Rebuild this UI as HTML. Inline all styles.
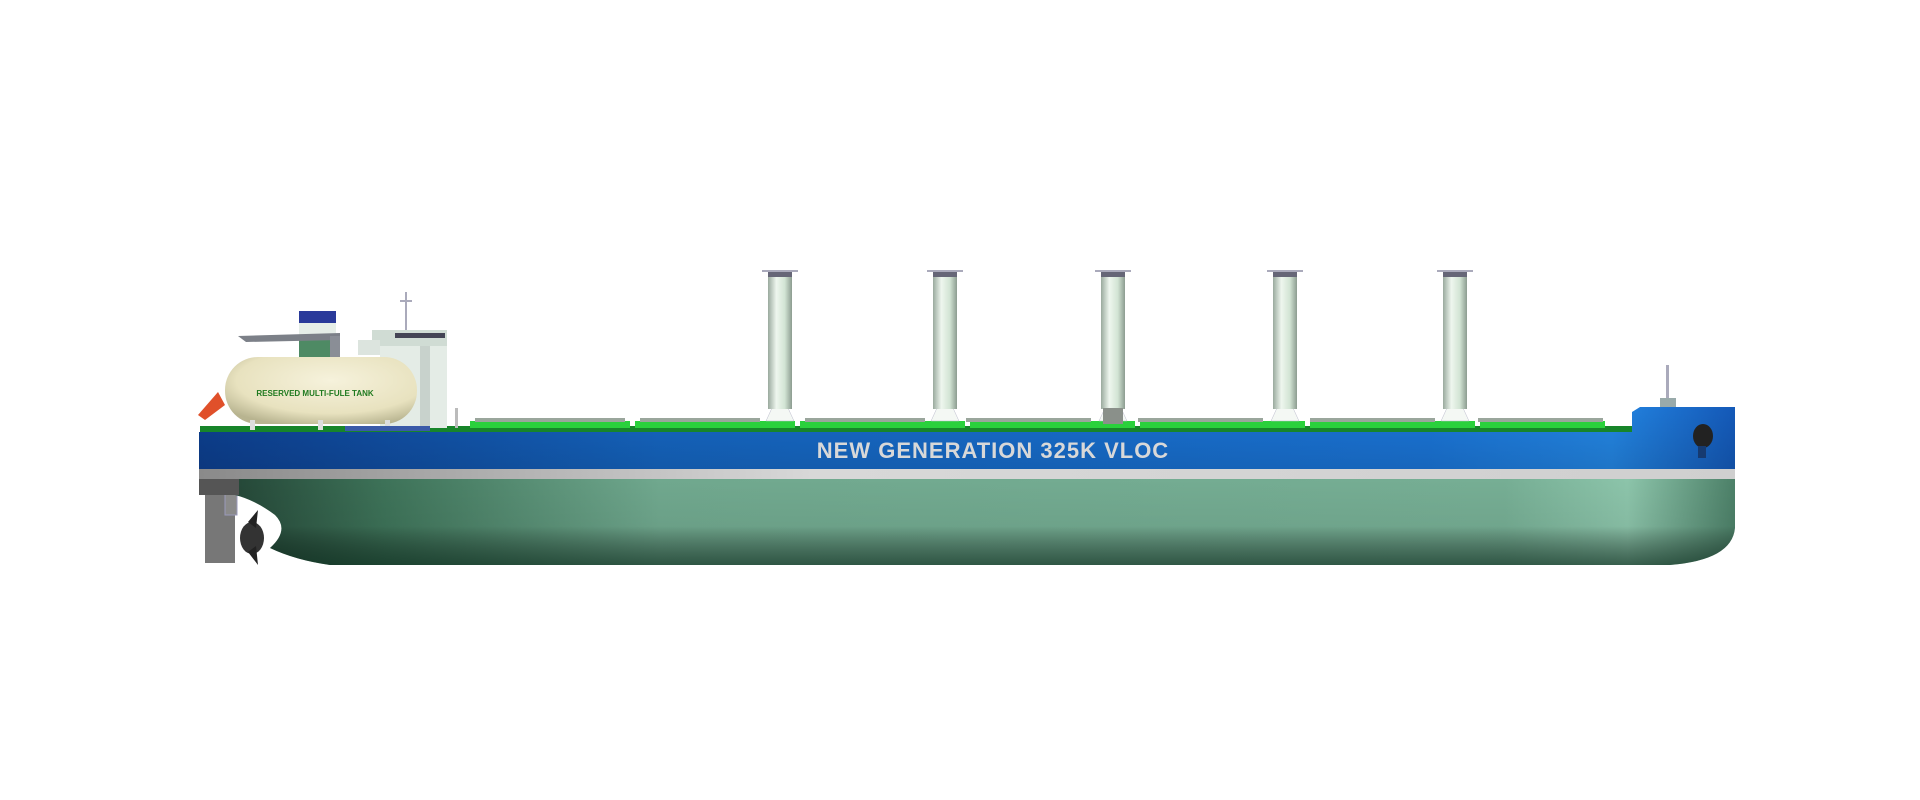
<!DOCTYPE html>
<html><head><style>
html,body{margin:0;padding:0;background:#fff;width:1920px;height:800px;overflow:hidden}
svg{display:block}
.t{font-family:"Liberation Sans",Arial,sans-serif;font-weight:700}
</style></head><body>
<svg width="1920" height="800" viewBox="0 0 1920 800" xmlns="http://www.w3.org/2000/svg">
<defs>
<linearGradient id="blue" x1="0" x2="1" y1="0" y2="0">
<stop offset="0" stop-color="#0d3f8f"/><stop offset="0.3" stop-color="#1565c0"/><stop offset="0.8" stop-color="#1a74d6"/><stop offset="0.92" stop-color="#2385e2"/><stop offset="1" stop-color="#1459b8"/>
</linearGradient>
<linearGradient id="bluev" x1="0" x2="0" y1="0" y2="1">
<stop offset="0" stop-color="#000" stop-opacity="0"/><stop offset="1" stop-color="#000" stop-opacity="0.12"/>
</linearGradient>
<linearGradient id="green" x1="0" x2="1" y1="0" y2="0">
<stop offset="0" stop-color="#1f3d30"/><stop offset="0.12" stop-color="#3d7258"/><stop offset="0.3" stop-color="#70a88e"/><stop offset="0.85" stop-color="#76ae94"/><stop offset="0.93" stop-color="#8cc4aa"/><stop offset="1" stop-color="#4c8068"/>
</linearGradient>
<linearGradient id="greenv" x1="0" x2="0" y1="0" y2="1">
<stop offset="0" stop-color="#000" stop-opacity="0"/><stop offset="0.55" stop-color="#000" stop-opacity="0.05"/><stop offset="1" stop-color="#0b2a1c" stop-opacity="0.65"/>
</linearGradient>
<linearGradient id="rotor" x1="0" x2="1">
<stop offset="0" stop-color="#9aaa9e"/><stop offset="0.35" stop-color="#eef6ee"/><stop offset="0.7" stop-color="#d2e4d4"/><stop offset="1" stop-color="#8c9c90"/>
</linearGradient>
<radialGradient id="tank" cx="0.55" cy="0.35" r="0.7">
<stop offset="0" stop-color="#f6f2dc"/><stop offset="0.7" stop-color="#e8e2bf"/><stop offset="1" stop-color="#b8b490"/>
</radialGradient>
<linearGradient id="stripe" x1="0" x2="1"><stop offset="0" stop-color="#8a8a8a"/><stop offset="0.4" stop-color="#d8d8d8"/><stop offset="1" stop-color="#cfcfcf"/></linearGradient>
</defs>

<!-- rudder -->
<rect x="205" y="478" width="30" height="85" fill="#777"/>
<rect x="225" y="490" width="12" height="25" fill="#8a8a8a" stroke="#99b" stroke-width="1"/>

<!-- hull lower green -->
<path d="M199 479 L1735 479 L1735 528 Q1732 560 1670 565 L330 565 Q295 560 270 548 Q290 530 275 515 Q255 500 235 495 L235 479 Z" fill="url(#green)"/>
<path d="M199 479 L1735 479 L1735 528 Q1732 560 1670 565 L330 565 Q295 560 270 548 Q290 530 275 515 Q255 500 235 495 L235 479 Z" fill="url(#greenv)"/>
<rect x="199" y="479" width="40" height="16" fill="#555"/>
<!-- propeller -->
<ellipse cx="252" cy="538" rx="12" ry="16" fill="#333"/>
<path d="M248 522 L258 510 L256 528 Z M248 552 L258 565 L256 546 Z" fill="#222"/>

<!-- white/grey stripe -->
<rect x="199" y="469" width="1536" height="10" fill="url(#stripe)"/>

<!-- blue hull band -->
<path d="M199 432 L1632 432 L1632 412 L1640 407 L1735 407 L1735 469 L199 469 Z" fill="url(#blue)"/>
<path d="M199 432 L1632 432 L1632 412 L1640 407 L1735 407 L1735 469 L199 469 Z" fill="url(#bluev)"/>
<!-- anchor -->
<ellipse cx="1703" cy="436" rx="10" ry="12" fill="#222"/>
<rect x="1698" y="446" width="8" height="12" fill="#163a70"/>
<!-- bow mast -->
<rect x="1666" y="365" width="3" height="40" fill="#aab"/>
<rect x="1660" y="398" width="16" height="9" fill="#9aa"/>

<!-- text -->
<text class="t" x="993" y="458" text-anchor="middle" font-size="22" fill="#d8d8d8" letter-spacing="1">NEW GENERATION 325K VLOC</text>

<!-- deck hatches -->
<rect x="200" y="426" width="1432" height="6" fill="#17852a"/>
<g fill="#2ad13c">
<rect x="470" y="421" width="160" height="7"/><rect x="635" y="421" width="160" height="7"/><rect x="800" y="421" width="165" height="7"/><rect x="970" y="421" width="165" height="7"/><rect x="1140" y="421" width="165" height="7"/><rect x="1310" y="421" width="165" height="7"/><rect x="1480" y="421" width="125" height="7"/>
</g>
<g fill="#9aa69c">
<rect x="475" y="418" width="150" height="4"/><rect x="640" y="418" width="120" height="4"/><rect x="805" y="418" width="120" height="4"/><rect x="966" y="418" width="125" height="4"/><rect x="1138" y="418" width="125" height="4"/><rect x="1310" y="418" width="125" height="4"/><rect x="1478" y="418" width="125" height="4"/>
</g>

<!-- rotors -->
<g>
<g transform="translate(780,0)"><path d="M-14 421 L-8 408 L8 408 L14 421 Z" fill="#f4f8f4" stroke="#bbc" stroke-width="0.5"/><rect x="-12" y="272" width="24" height="137" fill="url(#rotor)"/><rect x="-12" y="272" width="24" height="5" fill="#667"/><rect x="-18" y="270" width="36" height="2" fill="#aab"/></g>
<g transform="translate(945,0)"><path d="M-14 421 L-8 408 L8 408 L14 421 Z" fill="#f4f8f4" stroke="#bbc" stroke-width="0.5"/><rect x="-12" y="272" width="24" height="137" fill="url(#rotor)"/><rect x="-12" y="272" width="24" height="5" fill="#667"/><rect x="-18" y="270" width="36" height="2" fill="#aab"/></g>
<g transform="translate(1113,0)"><path d="M-14 421 L-8 408 L8 408 L14 421 Z" fill="#f4f8f4" stroke="#bbc" stroke-width="0.5"/><rect x="-12" y="272" width="24" height="137" fill="url(#rotor)"/><rect x="-12" y="272" width="24" height="5" fill="#667"/><rect x="-18" y="270" width="36" height="2" fill="#aab"/><rect x="-10" y="408" width="20" height="16" fill="#8a908a"/></g>
<g transform="translate(1285,0)"><path d="M-14 421 L-8 408 L8 408 L14 421 Z" fill="#f4f8f4" stroke="#bbc" stroke-width="0.5"/><rect x="-12" y="272" width="24" height="137" fill="url(#rotor)"/><rect x="-12" y="272" width="24" height="5" fill="#667"/><rect x="-18" y="270" width="36" height="2" fill="#aab"/></g>
<g transform="translate(1455,0)"><path d="M-14 421 L-8 408 L8 408 L14 421 Z" fill="#f4f8f4" stroke="#bbc" stroke-width="0.5"/><rect x="-12" y="272" width="24" height="137" fill="url(#rotor)"/><rect x="-12" y="272" width="24" height="5" fill="#667"/><rect x="-18" y="270" width="36" height="2" fill="#aab"/></g>
</g>

<!-- superstructure -->
<rect x="380" y="330" width="67" height="98" fill="#e4ece6"/>
<rect x="372" y="330" width="75" height="16" fill="#d0dcd4"/>
<rect x="395" y="333" width="50" height="5" fill="#445"/>
<rect x="420" y="346" width="10" height="82" fill="#c8d2cc"/>
<rect x="358" y="340" width="22" height="15" fill="#dce4de"/>
<rect x="405" y="292" width="2" height="38" fill="#aab"/>
<rect x="400" y="300" width="12" height="2" fill="#aab"/>
<!-- funnel -->
<rect x="299" y="311" width="37" height="12" fill="#2a3a9a"/>
<rect x="299" y="323" width="37" height="15" fill="#e6eee8"/>
<rect x="299" y="338" width="37" height="22" fill="#4e8a64"/>
<!-- crane -->
<path d="M238 336 L340 333 L340 340 L246 342 Z" fill="#7c8088"/>
<rect x="330" y="336" width="10" height="30" fill="#8a8e96"/>
<!-- lifeboat -->
<path d="M198 415 L218 392 L225 405 L205 420 Z" fill="#e0502a"/>
<!-- tank -->
<rect x="225" y="357" width="192" height="67" rx="33" fill="url(#tank)"/>
<rect x="250" y="420" width="5" height="10" fill="#ddd"/><rect x="318" y="420" width="5" height="10" fill="#ddd"/><rect x="385" y="420" width="5" height="10" fill="#ddd"/>
<text class="t" x="315" y="396" text-anchor="middle" font-size="8" fill="#1f7a1f">RESERVED MULTI-FULE TANK</text>
<rect x="345" y="426" width="85" height="5" fill="#3a5aa8"/>
<rect x="455" y="408" width="3" height="20" fill="#bbb"/>
</svg>
</body></html>
